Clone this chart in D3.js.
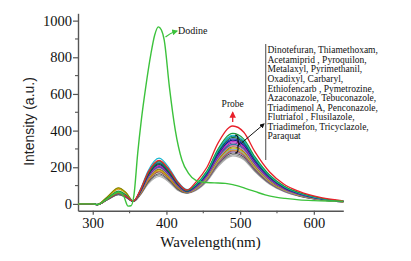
<!DOCTYPE html>
<html>
<head>
<meta charset="utf-8">
<script src="https://cdn.jsdelivr.net/npm/d3@7"></script>
<style>
body { margin: 0; background: #fff; }
</style>
</head>
<body>
<div id="chart-area"></div>
<script>
// wavelength grid shared by the probe and pesticide spectra
var wavelengths = [280, 300, 306, 320, 335, 345, 355, 365, 375, 390, 405, 415, 428, 440, 455, 470, 490, 505, 520, 540, 560, 580, 610, 640];

var probe = [0, 0, -4, 26, 58, 42, 15, 79, 171, 238, 179, 119, 75, 119, 200, 332, 425, 391, 285, 174, 106, 68, 34, 17];

var dodineWl = [280, 300, 306, 320, 335, 342, 348, 352, 356, 361, 366, 372, 379, 384, 389, 393, 397, 404, 412, 421, 430, 440, 450, 465, 480, 490, 507, 520, 534, 550, 561, 580, 600, 620, 640];
var dodine   = [0, 0, -4, 28, 62, 42, -12, -10, 50, 276, 460, 640, 820, 920, 966, 950, 894, 639, 403, 240, 167, 128, 118, 115, 112, 105, 85, 68, 49, 36, 30, 22, 18, 16, 15];

var pesticides = ["Dinotefuran", "Thiamethoxam", "Acetamiprid", "Pyroquilon", "Metalaxyl", "Pyrimethanil",
  "Oxadixyl", "Carbaryl", "Ethiofencarb", "Pymetrozine", "Azaconazole", "Tebuconazole", "Triadimenol A",
  "Penconazole", "Flutriafol", "Flusilazole", "Triadimefon", "Tricyclazole", "Paraquat"];

var pesticideSpectra = [
  [0, 0, -4, 32, 70, 50, 14, 78, 169, 235, 176, 118, 75, 108, 181, 300, 385, 354, 258, 158, 96, 62, 31, 15],
  [0, 0, -4, 29, 65, 47, 15, 83, 180, 250, 188, 125, 78, 105, 176, 293, 375, 345, 251, 154, 94, 60, 30, 15],
  [0, 0, -4, 28, 62, 45, 14, 76, 166, 230, 173, 115, 72, 104, 174, 289, 370, 340, 248, 152, 93, 59, 30, 15],
  [0, 1, -3, 27, 60, 43, 13, 73, 158, 220, 165, 110, 70, 101, 170, 282, 362, 333, 243, 148, 91, 58, 29, 14],
  [0, 0, -4, 26, 58, 42, 14, 74, 162, 225, 169, 112, 68, 99, 167, 277, 355, 327, 238, 146, 89, 57, 28, 14],
  [0, 0, -5, 27, 60, 43, 15, 71, 155, 215, 161, 108, 70, 97, 164, 271, 348, 320, 233, 143, 87, 56, 28, 14],
  [0, 0, -4, 28, 62, 45, 14, 69, 151, 210, 158, 105, 68, 95, 160, 265, 340, 313, 228, 139, 85, 54, 27, 14],
  [0, 1, -3, 26, 58, 42, 13, 68, 148, 205, 154, 102, 66, 93, 156, 259, 332, 305, 222, 136, 83, 53, 27, 13],
  [0, 0, -4, 25, 55, 40, 14, 66, 144, 200, 150, 100, 66, 91, 153, 254, 325, 299, 218, 133, 81, 52, 26, 13],
  [0, 0, -4, 27, 60, 43, 14, 64, 140, 195, 146, 98, 65, 89, 149, 248, 318, 293, 213, 130, 80, 51, 25, 13],
  [0, 0, -3, 40, 88, 63, 16, 63, 137, 190, 143, 95, 64, 87, 147, 243, 312, 287, 209, 128, 78, 50, 25, 12],
  [0, 0, -3, 38, 85, 61, 16, 61, 133, 185, 139, 93, 64, 85, 143, 238, 305, 281, 204, 125, 76, 49, 24, 12],
  [0, 0, -4, 27, 60, 43, 14, 66, 144, 200, 150, 100, 65, 84, 141, 234, 300, 276, 201, 123, 75, 48, 24, 12],
  [0, 0, -3, 36, 80, 58, 15, 59, 130, 180, 135, 90, 62, 83, 139, 230, 295, 271, 198, 121, 74, 47, 24, 12],
  [0, 0, -4, 25, 55, 40, 13, 58, 126, 175, 131, 88, 62, 81, 136, 226, 290, 267, 194, 119, 73, 46, 23, 12],
  [0, 0, -4, 26, 57, 41, 14, 59, 128, 178, 134, 89, 63, 80, 134, 222, 285, 262, 191, 117, 71, 46, 23, 11],
  [0, 0, -4, 23, 52, 37, 13, 54, 119, 165, 124, 83, 60, 78, 131, 217, 278, 256, 186, 114, 70, 44, 22, 11],
  [0, 0, -4, 23, 50, 36, 13, 52, 114, 158, 119, 79, 60, 76, 127, 211, 270, 248, 181, 111, 68, 43, 22, 11],
  [0, 0, -4, 23, 50, 36, 13, 50, 108, 150, 113, 75, 58, 73, 123, 204, 262, 241, 176, 107, 66, 42, 21, 10]
];

var pesticideColors = ["#1a9a3a", "#19b8d0", "#0a8080", "#0b6a2a", "#2040c0", "#101880", "#c020c0", "#7030a0",
  "#2a7f9f", "#e070b0", "#808000", "#c8b400", "#6fa8dc", "#e08a2c", "#8c564b", "#9467bd", "#555555", "#8a8a8a", "#b0b0b0"];

var legendLines = ["Dinotefuran, Thiamethoxam,", "Acetamiprid , Pyroquilon,", "Metalaxyl, Pyrimethanil,",
  "Oxadixyl, Carbaryl,", "Ethiofencarb , Pymetrozine,", "Azaconazole, Tebuconazole,",
  "Triadimenol A, Penconazole,", "Flutriafol , Flusilazole,", "Triadimefon, Tricyclazole,", "Paraquat"];

var xTicks = [300, 400, 500, 600];
var yTicks = [0, 200, 400, 600, 800, 1000];

var width = 411, height = 261;
var serif = "Liberation Serif";

var svg = d3.select("#chart-area").append("svg")
    .attr("width", width)
    .attr("height", height);

var defs = svg.append("defs");
function marker(id, color) {
  defs.append("marker")
      .attr("id", id)
      .attr("viewBox", "0 0 10 10")
      .attr("refX", 8).attr("refY", 5)
      .attr("markerWidth", 5).attr("markerHeight", 5)
      .attr("orient", "auto")
    .append("path")
      .attr("d", "M0,0 L10,5 L0,10 z")
      .attr("fill", color);
}
marker("arrow-black", "#111");
marker("arrow-red", "#e8202a");
marker("arrow-green", "#3cc23c");

var x = d3.scaleLinear().domain([280, 640]).range([78, 343.3]);
var y = d3.scaleLinear().domain([-37, 1040]).range([210.7, 13.3]);

// axes
var bottomAxis = d3.axisBottom(x).tickValues(xTicks).tickFormat(d3.format("d"))
    .tickSize(4).tickSizeOuter(0).tickPadding(3);
var gx = svg.append("g")
    .attr("transform", "translate(0," + y(-37) + ")")
    .call(bottomAxis);

var leftAxis = d3.axisLeft(y).tickValues(yTicks).tickFormat(d3.format("d"))
    .tickSize(5).tickSizeOuter(0).tickPadding(1);
var gy = svg.append("g")
    .attr("transform", "translate(" + x(280) + ",0)")
    .call(leftAxis);

[gx, gy].forEach(function(g) {
  g.attr("font-family", serif).attr("font-size", 14.5);
  g.selectAll("text").attr("fill", "#111");
  g.select(".domain").attr("stroke", "#555").attr("stroke-width", 1.4);
  g.selectAll(".tick line").attr("stroke", "#555").attr("stroke-width", 1.2);
});

// minor ticks
svg.append("g").selectAll("line")
    .data([350, 450, 550])
  .enter().append("line")
    .attr("x1", function(d) { return x(d); })
    .attr("x2", function(d) { return x(d); })
    .attr("y1", y(-37)).attr("y2", y(-37) + 2.5)
    .attr("stroke", "#555").attr("stroke-width", 1.1);

svg.append("g").selectAll("line")
    .data([100, 300, 500, 700, 900])
  .enter().append("line")
    .attr("x1", x(280) - 3).attr("x2", x(280))
    .attr("y1", function(d) { return y(d); })
    .attr("y2", function(d) { return y(d); })
    .attr("stroke", "#555").attr("stroke-width", 1.1);

// axis labels
svg.append("text")
    .attr("x", 210.5).attr("y", 247)
    .attr("text-anchor", "middle")
    .attr("font-family", serif).attr("font-size", 15)
    .attr("fill", "#111")
    .text("Wavelength(nm)");

svg.append("text")
    .attr("transform", "translate(33.5,121.5) rotate(-90)")
    .attr("text-anchor", "middle")
    .attr("font-family", "Liberation Sans").attr("font-size", 14)
    .attr("fill", "#222")
    .text("Intensity (a.u.)");

// spectra
var line = d3.line()
    .x(function(d) { return x(d[0]); })
    .y(function(d) { return y(d[1]); })
    .curve(d3.curveMonotoneX);

var curves = svg.append("g").attr("fill", "none");

for (var i = pesticideSpectra.length - 1; i >= 0; i--) {
  var pts = wavelengths.map(function(w, j) { return [w, pesticideSpectra[i][j]]; });
  curves.append("path")
      .datum(pts)
      .attr("d", line)
      .attr("stroke", pesticideColors[i])
      .attr("stroke-width", 1.1)
      .append("title").text(pesticides[i]);
}

curves.append("path")
    .datum(wavelengths.map(function(w, j) { return [w, probe[j]]; }))
    .attr("d", line)
    .attr("stroke", "#e8202a")
    .attr("stroke-width", 1.3);

curves.append("path")
    .datum(dodineWl.map(function(w, j) { return [w, dodine[j]]; }))
    .attr("d", line)
    .attr("stroke", "#3cc23c")
    .attr("stroke-width", 1.4);

// annotations
svg.append("path")
    .attr("d", "M165.5,37 Q170,33 177,31")
    .attr("fill", "none").attr("stroke", "#3cc23c").attr("stroke-width", 1.2)
    .attr("marker-end", "url(#arrow-green)");
svg.append("text")
    .attr("x", 178).attr("y", 34)
    .attr("font-family", serif).attr("font-size", 10).attr("fill", "#111")
    .text("Dodine");

svg.append("line")
    .attr("x1", 232.7).attr("y1", 122).attr("x2", 232.7).attr("y2", 112.5)
    .attr("stroke", "#e8202a").attr("stroke-width", 1.3)
    .attr("marker-end", "url(#arrow-red)");
svg.append("text")
    .attr("x", 232.7).attr("y", 107)
    .attr("text-anchor", "middle")
    .attr("font-family", serif).attr("font-size", 9.5).attr("fill", "#111")
    .text("Probe");

svg.append("path")
    .attr("d", "M235,135 Q238,135 238,138.5 L238,141.5 Q238,144 240.5,144 Q238,144 238,146.5 L238,149.5 Q238,153 235,153")
    .attr("fill", "none").attr("stroke", "#111").attr("stroke-width", 1.2);

svg.append("line")
    .attr("x1", 241.5).attr("y1", 143).attr("x2", 264).attr("y2", 124)
    .attr("stroke", "#111").attr("stroke-width", 1)
    .attr("marker-end", "url(#arrow-black)");

svg.append("line")
    .attr("x1", 265.7).attr("y1", 44).attr("x2", 265.7).attr("y2", 160)
    .attr("stroke", "#666").attr("stroke-width", 1.2);

svg.append("g").selectAll("text")
    .data(legendLines)
  .enter().append("text")
    .attr("x", 267.5)
    .attr("y", function(d, i) { return 53.3 + i * 9.57; })
    .attr("font-family", serif).attr("font-size", 9.5).attr("fill", "#111")
    .text(function(d) { return d; });
</script>
</body>
</html>
